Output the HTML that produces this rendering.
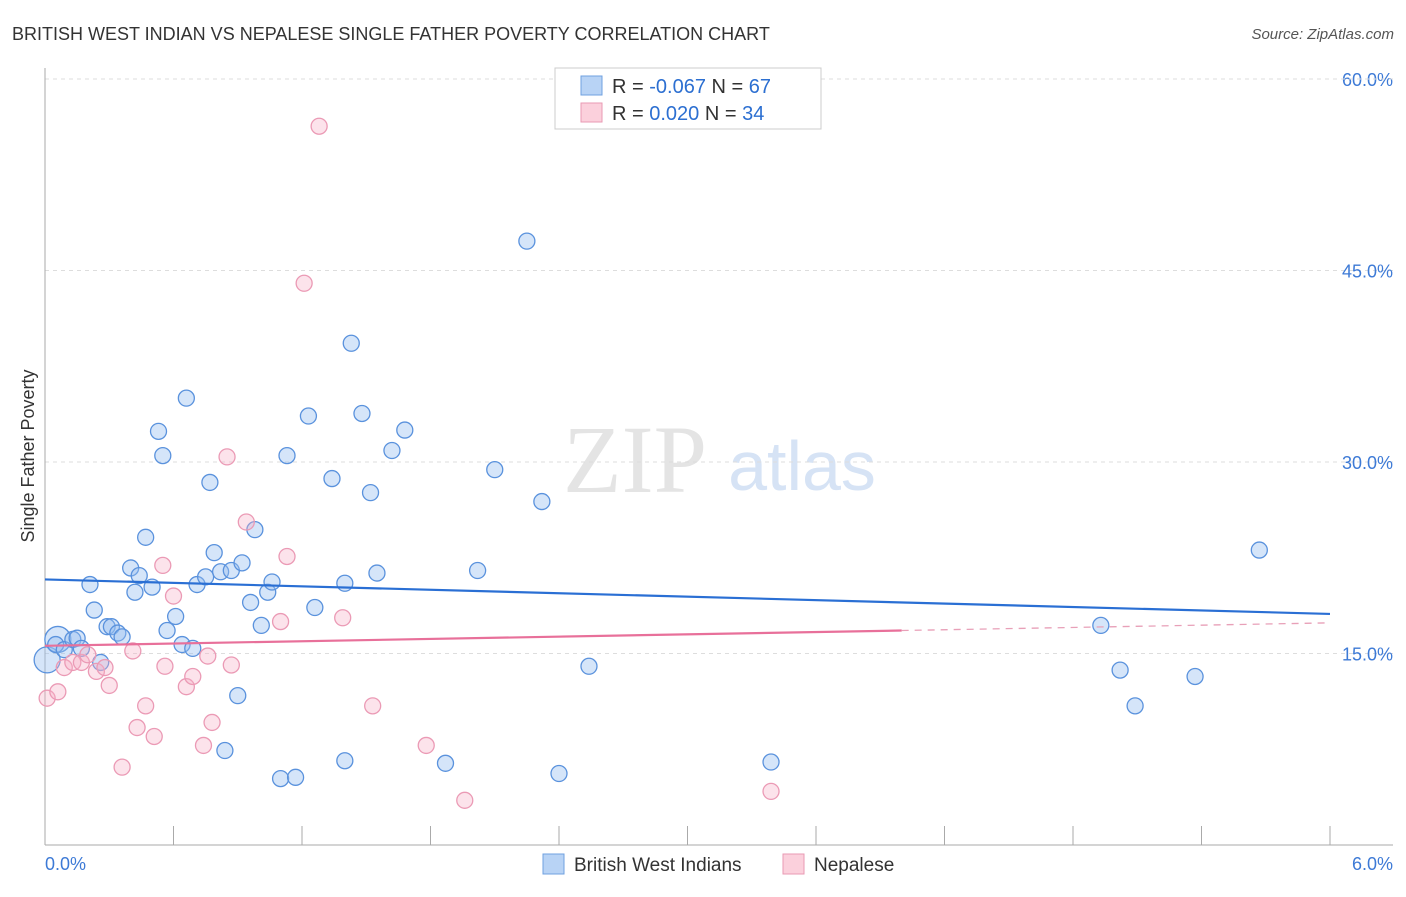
<!DOCTYPE html>
<html><head><meta charset="utf-8"><style>
body{margin:0;background:#fff;font-family:"Liberation Sans",sans-serif}
</style></head><body>
<svg width="1406" height="892" xmlns="http://www.w3.org/2000/svg">
<text x="12" y="40" font-size="18" fill="#333">BRITISH WEST INDIAN VS NEPALESE SINGLE FATHER POVERTY CORRELATION CHART</text>
<text x="1394" y="39" font-size="15" fill="#555" text-anchor="end" font-style="italic">Source: ZipAtlas.com</text>
<text x="635" y="492" font-size="96" fill="#e4e4e4" font-family="Liberation Serif" text-anchor="middle">ZIP</text>
<text x="802" y="490" font-size="70" fill="#d6e3f5" text-anchor="middle">atlas</text>
<g id="grid"></g>
<g id="axes"></g>
<text x="34" y="456" font-size="18" fill="#333" text-anchor="middle" transform="rotate(-90 34 456)">Single Father Poverty</text>
<g id="pts"></g>
<g id="lines"></g>
<g>
<rect x="555" y="68" width="266" height="61" fill="#fff" stroke="#ccc"/>
<rect x="581" y="76" width="21" height="19" fill="#b8d3f5" stroke="#6fa0e0"/>
<rect x="581" y="103" width="21" height="19" fill="#fbd0dc" stroke="#e89ab3"/>
<text x="612" y="93" font-size="20" fill="#333">R = <tspan fill="#2c6fd1">-0.067</tspan>   N = <tspan fill="#2c6fd1">67</tspan></text>
<text x="612" y="120" font-size="20" fill="#333">R =  <tspan fill="#2c6fd1">0.020</tspan>   N = <tspan fill="#2c6fd1">34</tspan></text>
</g>
<g>
<rect x="543" y="854" width="21" height="20" fill="#b8d3f5" stroke="#6fa0e0"/>
<text x="574" y="871" font-size="19" fill="#333">British West Indians</text>
<rect x="783" y="854" width="21" height="20" fill="#fbd0dc" stroke="#e89ab3"/>
<text x="814" y="871" font-size="19" fill="#333">Nepalese</text>
</g>
</svg>
<script>
const blueX=[0.01,0.06,0.05,0.09,0.13,0.15,0.17,0.21,0.23,0.26,0.29,0.31,0.34,0.36,0.40,0.42,0.44,0.47,0.50,0.53,0.55,0.57,0.61,0.64,0.66,0.69,0.71,0.75,0.77,0.79,0.82,0.84,0.87,0.90,0.92,0.96,0.98,1.01,1.04,1.06,1.10,1.13,1.17,1.23,1.26,1.34,1.40,1.40,1.43,1.48,1.52,1.55,1.62,1.68,1.87,2.02,2.10,2.25,2.32,2.40,2.54,3.39,4.93,5.02,5.09,5.37,5.67];
const blueY=[14.5,16.1,15.7,15.3,16.1,16.2,15.4,20.4,18.4,14.3,17.1,17.1,16.6,16.3,21.7,19.8,21.1,24.1,20.2,32.4,30.5,16.8,17.9,15.7,35.0,15.4,20.4,21.0,28.4,22.9,21.4,7.4,21.5,11.7,22.1,19.0,24.7,17.2,19.8,20.6,5.2,30.5,5.3,33.6,18.6,28.7,20.5,6.6,39.3,33.8,27.6,21.3,30.9,32.5,6.4,21.5,29.4,47.3,26.9,5.6,14.0,6.5,17.2,13.7,10.9,13.2,23.1];
const pinkX=[0.01,0.06,0.09,0.13,0.17,0.20,0.24,0.28,0.30,0.36,0.41,0.43,0.47,0.51,0.55,0.56,0.60,0.66,0.69,0.74,0.76,0.78,0.85,0.87,0.94,1.10,1.13,1.21,1.28,1.39,1.53,1.78,1.96,3.39];
const pinkY=[11.5,12.0,13.9,14.3,14.3,14.9,13.6,13.9,12.5,6.1,15.2,9.2,10.9,8.5,21.9,14.0,19.5,12.4,13.2,7.8,14.8,9.6,30.4,14.1,25.3,17.5,22.6,44.0,56.3,17.8,10.9,7.8,3.5,4.2];
const blueTrend=[20.8,18.1];
const pinkTrend=[15.6,17.4];
const pinkSolidEnd=4.0;
const yTicks=[15,30,45,60];
const NS="http://www.w3.org/2000/svg";
const X=v=>45+v/6*1285, Y=v=>845-v*12.767;
function mk(t,a,p){const e=document.createElementNS(NS,t);for(const k in a)e.setAttribute(k,a[k]);p.appendChild(e);return e;}
const grid=document.getElementById('grid'),axes=document.getElementById('axes');
yTicks.forEach(t=>{
 const l=mk('line',{x1:45,x2:1393,y1:Y(t),y2:Y(t),stroke:'#ddd','stroke-dasharray':'4,4'},grid);
 
 
 const tx=mk('text',{x:1393,y:Y(t)+7,'font-size':18,fill:'#3d7ad6','text-anchor':'end'},grid);
 tx.textContent=t.toFixed(1)+'%';
 
 
});
mk('line',{x1:45,x2:1393,y1:79,y2:79,stroke:'#ddd','stroke-dasharray':'4,4'},grid);
mk('line',{x1:45,x2:45,y1:68,y2:845,stroke:'#aaa'},axes);
mk('line',{x1:45,x2:1393,y1:845,y2:845,stroke:'#aaa'},axes);
for(let i=0;i<=10;i++){mk('line',{x1:X(i*0.6),x2:X(i*0.6),y1:826,y2:845,stroke:'#aaa'},axes);}
let t0=mk('text',{x:45,y:870,'font-size':18,fill:'#3d7ad6'},axes);t0.textContent='0.0%';


let t1=mk('text',{x:1393,y:870,'font-size':18,fill:'#3d7ad6','text-anchor':'end'},axes);t1.textContent='6.0%';


const pts=document.getElementById('pts');
blueX.forEach((x,i)=>{const c=mk('circle',{cx:X(x),cy:Y(blueY[i]),r:i<2?13:8,fill:'rgba(150,190,240,0.4)',stroke:'#5a92dd','stroke-width':1.3},pts);
 
 });
pinkX.forEach((x,i)=>{const c=mk('circle',{cx:X(x),cy:Y(pinkY[i]),r:8,fill:'rgba(245,175,198,0.35)',stroke:'#eb9ab5','stroke-width':1.3},pts);
 
 });
const ln=document.getElementById('lines');
const b=mk('line',{x1:X(0),y1:Y(blueTrend[0]),x2:X(6),y2:Y(blueTrend[1]),stroke:'#2a6fd4','stroke-width':2.2},ln);


const py=v=>pinkTrend[0]+(pinkTrend[1]-pinkTrend[0])*v/6;
const p=mk('line',{x1:X(0),y1:Y(py(0)),x2:X(pinkSolidEnd),y2:Y(py(pinkSolidEnd)),stroke:'#e8709a','stroke-width':2.2},ln);


const pd=mk('line',{x1:X(pinkSolidEnd),y1:Y(py(pinkSolidEnd)),x2:X(6),y2:Y(py(6)),stroke:'#e8a0b8','stroke-width':1.3,'stroke-dasharray':'7,6'},ln);


</script>
</body></html>
